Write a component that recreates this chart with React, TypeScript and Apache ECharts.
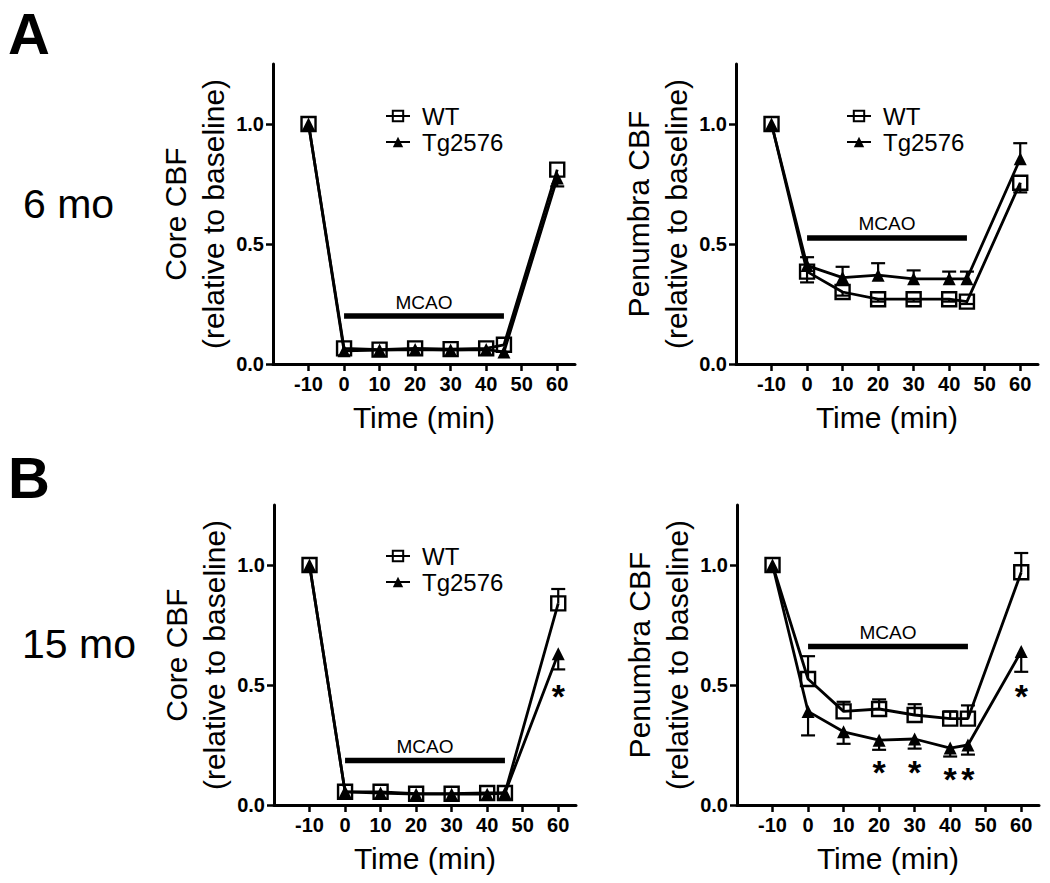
import React, { useEffect, useRef } from 'react';
import * as echarts from 'echarts';

// ---------- data ----------
const TIMES = [-10, 0, 10, 20, 30, 40, 45, 60];
const X_TICKS = [-10, 0, 10, 20, 30, 40, 50, 60];
const Y_TICKS = [0, 0.5, 1.0];
const SERIES_NAMES = ['WT', 'Tg2576'];

// 6 mo, core
const wt6Core = [1.0, 0.065, 0.06, 0.065, 0.062, 0.065, 0.08, 0.81];
const wt6CoreErr = [0, 0, 0, 0, 0, 0, 0, 0];
const tg6Core = [1.0, 0.055, 0.058, 0.06, 0.058, 0.06, 0.05, 0.775];
const tg6CoreErr = [0, 0, 0, 0, 0, 0, 0, -0.035];

// 6 mo, penumbra
const wt6Pen = [1.0, 0.385, 0.3, 0.27, 0.27, 0.27, 0.26, 0.755];
const wt6PenErr = [0, -0.045, -0.015, -0.01, -0.01, -0.01, -0.01, -0.04];
const tg6Pen = [1.0, 0.41, 0.36, 0.37, 0.355, 0.355, 0.355, 0.855];
const tg6PenErr = [0, 0.035, 0.045, 0.05, 0.035, 0.03, 0.03, 0.065];

// 15 mo, core
const wt15Core = [1.0, 0.055, 0.055, 0.047, 0.047, 0.05, 0.05, 0.84];
const wt15CoreErr = [0, 0, 0, 0, 0, 0, 0, 0.06];
const tg15Core = [1.0, 0.055, 0.05, 0.045, 0.045, 0.045, 0.05, 0.63];
const tg15CoreErr = [0, 0, 0, 0, 0, 0, 0, -0.065];
const star15CoreX = [60];
const star15CoreY = [0.49];

// 15 mo, penumbra
const wt15Pen = [1.0, 0.525, 0.39, 0.4, 0.375, 0.36, 0.36, 0.97];
const wt15PenErr = [0, 0.095, 0.04, 0.04, 0.045, 0.03, 0.055, 0.08];
const tg15Pen = [1.0, 0.39, 0.305, 0.27, 0.275, 0.237, 0.25, 0.64];
const tg15PenErr = [0, -0.1, -0.05, -0.04, -0.04, -0.035, -0.04, -0.085];
const star15PenX = [20, 30, 40, 45, 60];
const star15PenY = [0.175, 0.175, 0.145, 0.145, 0.49];

// MCAO bar: from / to (min), bar level, label level
const MCAO_RANGE = [0, 45];
const mcaoLevel = [0.2, 0.525, 0.185, 0.66];
const mcaoLabelLevel = [0.258, 0.585, 0.243, 0.718];

// ---------- layout ----------
const FONT = '"Liberation Sans", Arial, Helvetica, sans-serif';
const GRID_W = 302;
const GRID_H = 300;

type Panel = {
  wt: number[]; wtErr: number[]; tg: number[]; tgErr: number[];
  starX: number[]; starY: number[];
  yName: string; left: number; top: number;
  legend: null | { left: number; top: number };
};

const panels: Panel[] = [
  { wt: wt6Core, wtErr: wt6CoreErr, tg: tg6Core, tgErr: tg6CoreErr, starX: [], starY: [],
    yName: 'Core CBF', left: 273, top: 64, legend: { left: 385, top: 104 } },
  { wt: wt6Pen, wtErr: wt6PenErr, tg: tg6Pen, tgErr: tg6PenErr, starX: [], starY: [],
    yName: 'Penumbra CBF', left: 736, top: 64, legend: { left: 846, top: 104 } },
  { wt: wt15Core, wtErr: wt15CoreErr, tg: tg15Core, tgErr: tg15CoreErr, starX: star15CoreX, starY: star15CoreY,
    yName: 'Core CBF', left: 274, top: 505, legend: { left: 385, top: 544 } },
  { wt: wt15Pen, wtErr: wt15PenErr, tg: tg15Pen, tgErr: tg15PenErr, starX: star15PenX, starY: star15PenY,
    yName: 'Penumbra CBF', left: 737, top: 505, legend: null },
];

function errRender(params: any, api: any) {
  const x = api.value(0);
  const y = api.value(1);
  const e = api.value(2);
  const p0 = api.coord([x, y]);
  const p1 = api.coord([x, y + e]);
  const style = { stroke: '#000', lineWidth: 2.2 };
  return {
    type: 'group',
    children: [
      { type: 'line', shape: { x1: p0[0], y1: p0[1], x2: p1[0], y2: p1[1] }, style },
      { type: 'line', shape: { x1: p1[0] - 7, y1: p1[1], x2: p1[0] + 7, y2: p1[1] }, style },
    ],
  };
}

function buildOption() {
  const grid: any[] = [];
  const xAxis: any[] = [];
  const yAxis: any[] = [];
  const series: any[] = [];
  const legend: any[] = [];

  panels.forEach((p, i) => {
    grid.push({ left: p.left, top: p.top, width: GRID_W, height: GRID_H, containLabel: false });
    xAxis.push({
      gridIndex: i, type: 'value', min: -20, max: 65, interval: 10,
      axisLine: { show: true, onZero: false, lineStyle: { color: '#000', width: 3 } },
      axisTick: { show: true, length: 7, customValues: X_TICKS, lineStyle: { color: '#000', width: 2.5 } },
      axisLabel: { show: true, customValues: X_TICKS, margin: 10, color: '#000', fontSize: 20, fontWeight: 'bold', fontFamily: FONT },
      splitLine: { show: false },
      name: 'Time (min)', nameLocation: 'middle', nameGap: 38,
      nameTextStyle: { color: '#000', fontSize: 30, fontFamily: FONT },
    });
    yAxis.push({
      gridIndex: i, type: 'value', min: 0, max: 1.25, interval: 0.25,
      axisLine: { show: true, onZero: false, lineStyle: { color: '#000', width: 3 } },
      axisTick: { show: true, length: 7, customValues: Y_TICKS, lineStyle: { color: '#000', width: 2.5 } },
      axisLabel: { show: true, customValues: Y_TICKS, margin: 9, color: '#000', fontSize: 20, fontWeight: 'bold', fontFamily: FONT,
        formatter: (v: number) => v.toFixed(1) },
      splitLine: { show: false },
      name: p.yName + '\n(relative to baseline)', nameLocation: 'middle', nameRotate: 90, nameGap: 40,
      nameTextStyle: { color: '#000', fontSize: 30, lineHeight: 38, fontFamily: FONT, align: 'center' },
    });

    const errData = (vals: number[], errs: number[]) =>
      TIMES.map((t, k) => [t, vals[k], errs[k]]).filter((d) => d[2] !== 0);

    series.push({
      type: 'custom', xAxisIndex: i, yAxisIndex: i, renderItem: errRender, silent: true, z: 1,
      data: errData(p.wt, p.wtErr),
    });
    series.push({
      type: 'custom', xAxisIndex: i, yAxisIndex: i, renderItem: errRender, silent: true, z: 1,
      data: errData(p.tg, p.tgErr),
    });
    series.push({
      name: SERIES_NAMES[0], type: 'line', xAxisIndex: i, yAxisIndex: i, z: 3,
      data: TIMES.map((t, k) => [t, p.wt[k]]),
      symbol: 'rect', symbolSize: 14, showAllSymbol: true,
      itemStyle: { color: 'rgba(255,255,255,0)', borderColor: '#000', borderWidth: 2.4 },
      lineStyle: { color: '#000', width: 2.8 },
    });
    series.push({
      name: SERIES_NAMES[1], type: 'line', xAxisIndex: i, yAxisIndex: i, z: 4,
      data: TIMES.map((t, k) => [t, p.tg[k]]),
      symbol: 'triangle', symbolSize: 13, showAllSymbol: true,
      itemStyle: { color: '#000', borderColor: '#000', borderWidth: 0 },
      lineStyle: { color: '#000', width: 2.8 },
    });
    series.push({
      name: 'MCAO', type: 'line', xAxisIndex: i, yAxisIndex: i, z: 2, silent: true,
      data: MCAO_RANGE.map((t) => [t, mcaoLevel[i]]),
      symbol: 'none', lineStyle: { color: '#000', width: 5.5 },
    });
    series.push({
      name: 'MCAO label', type: 'scatter', xAxisIndex: i, yAxisIndex: i, silent: true, z: 5,
      data: [[(MCAO_RANGE[0] + MCAO_RANGE[1]) / 2, mcaoLabelLevel[i]]],
      symbolSize: 0, itemStyle: { color: '#000' },
      label: { show: true, position: 'inside', formatter: 'MCAO', color: '#000', opacity: 1, fontSize: 19, fontFamily: FONT },
    });
    if (p.starX.length) {
      series.push({
        name: 'sig', type: 'scatter', xAxisIndex: i, yAxisIndex: i, silent: true, z: 5,
        data: p.starX.map((x, k) => [x, p.starY[k]]),
        symbolSize: 0, itemStyle: { color: '#000' },
        label: { show: true, position: 'inside', formatter: '*', color: '#000', opacity: 1, fontSize: 34, fontWeight: 'bold', fontFamily: FONT, offset: [0, 9] },
      });
    }
    if (p.legend) {
      legend.push({
        data: SERIES_NAMES, orient: 'vertical', left: p.legend.left, top: p.legend.top,
        itemWidth: 24, itemHeight: 13, itemGap: 2, selectedMode: false, padding: 0,
        textStyle: { color: '#000', fontSize: 24, fontFamily: FONT, padding: [0, 0, 0, 7] },
      });
    }
  });

  const graphic = [
    { type: 'text', left: 8, top: 4, style: { text: 'A', font: `bold 58px ${FONT}`, fill: '#000' } },
    { type: 'text', left: 8, top: 448, style: { text: 'B', font: `bold 58px ${FONT}`, fill: '#000' } },
    { type: 'text', left: 23, top: 183, style: { text: '6 mo', font: `41px ${FONT}`, fill: '#000' } },
    { type: 'text', left: 22, top: 623, style: { text: '15 mo', font: `41px ${FONT}`, fill: '#000' } },
  ];

  return {
    animation: false,
    backgroundColor: '#fff',
    textStyle: { fontFamily: FONT },
    grid, xAxis, yAxis, series, legend, graphic,
  };
}

export default function App() {
  const ref = useRef<HTMLDivElement>(null);
  useEffect(() => {
    if (!ref.current) return;
    const chart = echarts.init(ref.current, null, { renderer: 'svg' });
    chart.setOption(buildOption() as any);
    return () => chart.dispose();
  }, []);
  return (
    <div
      ref={ref}
      style={{ position: 'absolute', left: 0, top: 0, width: 1050, height: 883, background: '#fff' }}
    />
  );
}
